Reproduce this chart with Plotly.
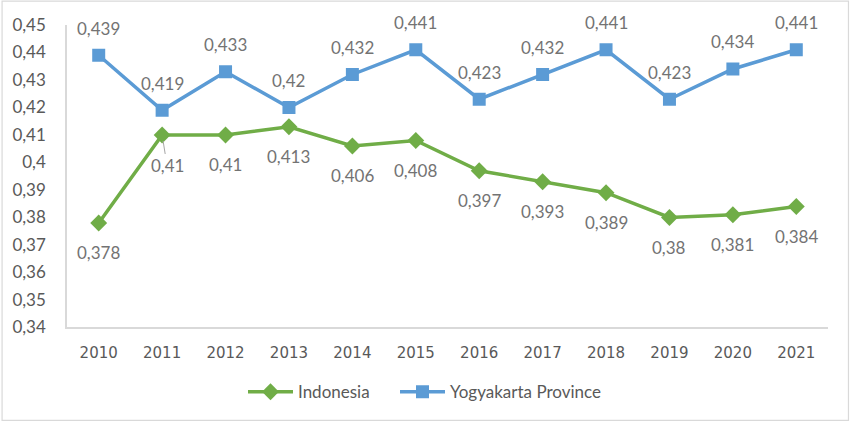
import plotly.graph_objects as go

years = ["2010", "2011", "2012", "2013", "2014", "2015",
         "2016", "2017", "2018", "2019", "2020", "2021"]
indonesia = [0.378, 0.41, 0.41, 0.413, 0.406, 0.408,
             0.397, 0.393, 0.389, 0.38, 0.381, 0.384]
yogyakarta = [0.439, 0.419, 0.433, 0.42, 0.432, 0.441,
              0.423, 0.432, 0.441, 0.423, 0.434, 0.441]
ytick_vals = [0.34, 0.35, 0.36, 0.37, 0.38, 0.39, 0.40,
              0.41, 0.42, 0.43, 0.44, 0.45]

W, H = 850, 424
ML, MR, MT, MB = 66, 22, 25, 95
GRAY = "#595959"
LBL_GRAY = "#737373"
FONT = "Lato"


def fmt(v):
    return ("%g" % v).replace(".", ",")


fig = go.Figure()
fig.add_trace(go.Scatter(
    x=years, y=indonesia, name="Indonesia", mode="lines+markers",
    line=dict(color="#70AD47", width=3.5),
    marker=dict(symbol="diamond", size=13, color="#70AD47"),
    legend="legend",
))
fig.add_trace(go.Scatter(
    x=years, y=yogyakarta, name="Yogyakarta Province", mode="lines+markers",
    line=dict(color="#5B9BD5", width=3.5),
    marker=dict(symbol="square", size=13, color="#5B9BD5"),
    legend="legend2",
))

# data labels (x given as category index, a "2011" string would be read as index 2011)
lbl_font = dict(size=17, color=LBL_GRAY, family=FONT)
for i, v in enumerate(yogyakarta):
    fig.add_annotation(x=i, y=v, text=fmt(v), showarrow=False, yshift=27,
                       font=lbl_font)
for i, v in enumerate(indonesia):
    if years[i] == "2011":
        # this one was dragged a bit, Excel draws a leader line
        fig.add_annotation(x=i, y=v, text=fmt(v), showarrow=True,
                           arrowhead=0, arrowwidth=1, arrowcolor="#A6A6A6",
                           ax=5, ay=31, standoff=6, font=lbl_font)
    else:
        fig.add_annotation(x=i, y=v, text=fmt(v), showarrow=False, yshift=-30,
                           font=lbl_font)

# outer border of the chart
pw, ph = W - ML - MR, H - MT - MB
fig.add_shape(type="rect", xref="paper", yref="paper",
              x0=(1 - ML) / pw, x1=1 + (MR - 1.5) / pw,
              y0=-(MB - 1.5) / ph, y1=1 + (MT - 1) / ph,
              line=dict(color="#D9D9D9", width=1.2))

leg = dict(orientation="h", xref="container", yref="container",
           xanchor="left", y=0.075, yanchor="middle",
           font=dict(size=17, color=GRAY, family=FONT), itemwidth=45)

fig.update_layout(
    width=W, height=H,
    margin=dict(l=ML, r=MR, t=MT, b=MB),
    paper_bgcolor="white", plot_bgcolor="white",
    separators=",.",
    font=dict(family=FONT, color=GRAY, size=15),
    showlegend=True,
    legend=dict(leg, x=243 / W),
    legend2=dict(leg, x=395 / W),
)
fig.update_xaxes(
    type="category", range=[-0.5, 11.5],
    showline=True, linecolor="#D9D9D9", linewidth=1.5,
    showgrid=False, ticks="", ticklabelstandoff=11,
    tickfont=dict(family="DejaVu Sans", size=15, color=GRAY),
)
fig.update_yaxes(
    range=[0.34, 0.45], tickvals=ytick_vals,
    ticktext=[fmt(round(v, 2)) for v in ytick_vals],
    showline=True, linecolor="#D9D9D9", linewidth=1.5,
    showgrid=False, zeroline=False, ticks="", ticklabelstandoff=16,
    tickfont=dict(family=FONT, size=17, color=GRAY),
)

fig.write_html("out.html", config={"displayModeBar": False},
               post_script="document.body.style.margin='0';")
